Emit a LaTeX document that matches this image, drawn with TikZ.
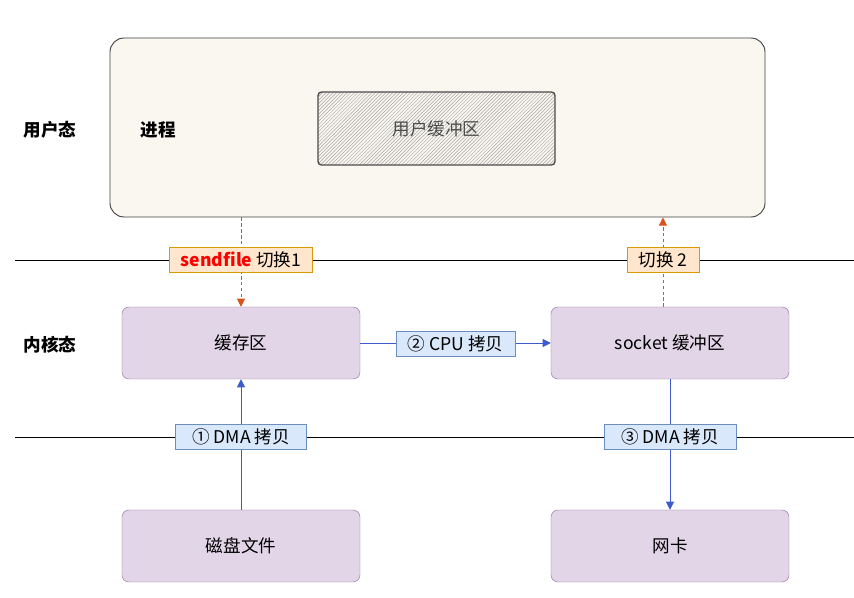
\documentclass[tikz,border=0pt]{standalone}
\usepackage{fontspec}
\setmainfont{Noto Sans CJK SC}
\usetikzlibrary{arrows.meta,positioning,patterns}
\definecolor{procfill}{HTML}{F9F7F0}
\definecolor{kfill}{HTML}{E1D5E7}
\definecolor{kdraw}{HTML}{9673A6}
\definecolor{swfill}{HTML}{FFE6CC}
\definecolor{swdraw}{HTML}{D79B00}
\definecolor{cpfill}{HTML}{DAE8FC}
\definecolor{cpdraw}{HTML}{6C8EBF}
\definecolor{swline}{HTML}{D4561C}
\definecolor{cpline}{HTML}{3D5BCC}
\begin{document}
\begin{tikzpicture}[x=0.03cm,y=-0.03cm,
      font=\fontsize{15}{18}\selectfont,
      kbox/.style={draw=kdraw,fill=kfill,rounded corners=6pt,minimum width=7.14cm,minimum height=2.16cm},
      swlbl/.style={draw=swdraw,fill=swfill,inner sep=2pt,minimum height=0.75cm,font=\fontsize{15}{17}\selectfont},
      cplbl/.style={draw=cpdraw,fill=cpfill,inner sep=2pt,minimum height=0.75cm,font=\fontsize{15}{17}\selectfont},
      sw/.style={-{Triangle[width=7pt,length=7pt]},densely dashed,swline,thick},
      cp/.style={-{Triangle[width=7pt,length=7pt]},cpline,thick},
      tag/.style={font=\fontsize{15}{18}\selectfont\bfseries}
    ]
      \useasboundingbox (0,0) rectangle (854,598);
      % user space
      \node[draw=black!75,fill=procfill,rounded corners=12pt,thick,minimum width=19.65cm,minimum height=5.37cm] (proc) at (437.5,127.5) {};
      \node[draw=black!70,very thick,rounded corners=3pt,preaction={fill=procfill},pattern=north east lines,pattern color=black!35,minimum width=7.11cm,minimum height=2.19cm,text=black!70] (ubuf) at (436.5,128.5) {用户缓冲区};
      \node[tag] (user) at (50,130) {用户态};
      \node[tag] (procname) at (158,130) {进程};
      % boundaries
      \coordinate (b1l) at (15,260);
      \coordinate (b1r) at (854,260);
      \coordinate (b2l) at (15,437);
      \coordinate (b2r) at (854,437);
      \draw[semithick] (b1l) -- (b1r);
      \draw[semithick] (b2l) -- (b2r);
      % kernel space
      \node[tag] (kernel) at (50,345) {内核态};
      \node[kbox] (cache) at (241,343) {缓存区};
      \node[kbox] (sock) at (670,343) {socket 缓冲区};
      \node[kbox] (disk) at (241,546) {磁盘文件};
      \node[kbox] (nic) at (670,546) {网卡};
      % copies and switches
      \draw[sw] (proc.south -| cache.north) -- (cache.north);
      \draw[sw] ([xshift=-6]sock.north) -- ([xshift=-6]sock.north |- proc.south);
      \draw[cp] (disk) -- (cache);
      \draw[cp] (cache) -- (sock);
      \draw[cp] (sock) -- (nic);
      \node[swlbl,minimum width=4.29cm] (sw1) at (cache |- b1l) {\textcolor{red}{\bfseries sendfile} 切换1};
      \node[swlbl,minimum width=2.16cm] (sw2) at ([xshift=-6]sock.north |- b1l) {切换 2};
      \node[cplbl,minimum width=3.93cm] (cp1) at (cache |- b2l) {① DMA 拷贝};
      \node[cplbl,minimum width=3.57cm] (cp2) at (455.5,343.5) {② CPU 拷贝};
      \node[cplbl,minimum width=3.96cm] (cp3) at (sock |- b2l) {③ DMA 拷贝};
    \end{tikzpicture}
\end{document}
